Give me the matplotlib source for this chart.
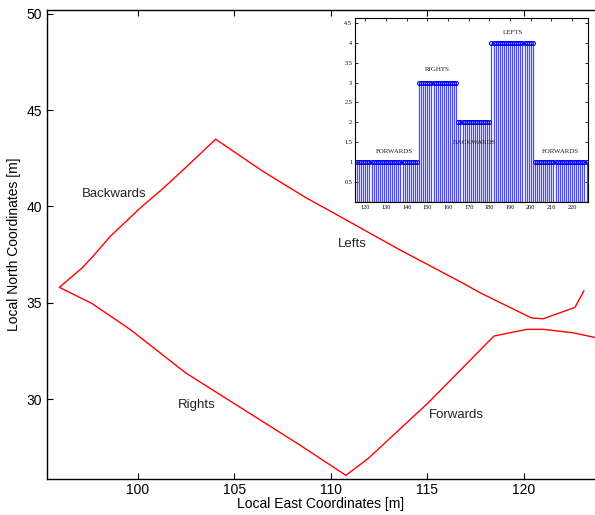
import numpy as np
import matplotlib
matplotlib.use("Agg")
import matplotlib.pyplot as plt

# ---------------- TRAJECTORY (local ENU, metres) ----------------
east = [123.95, 123.69, 122.57, 121.02, 120.16, 118.46, 115.06, 113.07, 111.95,
        110.79, 108.41, 102.50, 99.60, 97.62, 95.94, 97.10, 97.62, 98.56, 100.12,
        101.33, 102.36, 104.04, 106.51, 108.76, 109.96, 113.60, 116.87, 117.74,
        120.41, 121.02, 122.66, 123.12]
north = [33.17, 33.20, 33.44, 33.62, 33.62, 33.27, 29.81, 27.96, 26.92,
         26.04, 27.61, 31.35, 33.62, 34.97, 35.80, 36.79, 37.34, 38.43, 39.91,
         40.95, 41.90, 43.49, 41.81, 40.43, 39.77, 37.74, 36.01, 35.52,
         34.21, 34.17, 34.76, 35.61]

path_labels = ["Backwards", "Lefts", "Rights", "Forwards"]
path_label_x = [97.10, 110.38, 102.09, 115.11]
path_label_y = [40.63, 38.05, 29.69, 29.17]

# ---------------- MANOEUVRE CLASS PER SAMPLE ----------------
seg_names = ["FORWARDS", "RIGHTS", "BACKWARDS", "LEFTS", "FORWARDS"]
seg_first = [116, 146, 165, 181, 202]
seg_last = [145, 164, 180, 201, 227]
seg_class = [1, 3, 2, 4, 1]
seg_text_x = [134.1, 155.0, 173.0, 191.2, 214.5]
seg_text_y = [1.27, 3.33, 1.50, 4.25, 1.27]

samples = np.concatenate([np.arange(a, b + 1) for a, b in zip(seg_first, seg_last)])
classes = np.concatenate([np.full(b - a + 1, c) for a, b, c in zip(seg_first, seg_last, seg_class)])

plt.rcParams['font.family'] = ['Liberation Sans', 'DejaVu Sans']

fig = plt.figure(figsize=(5.95, 5.15), dpi=100)
ax = fig.add_axes([47/595, 1 - 479/515, 1 - 47/595, (479 - 10)/515])

ax.plot(east, north, color='#ff0000', lw=1.0)
for t, x, y in zip(path_labels, path_label_x, path_label_y):
    ax.text(x, y, t, fontsize=9.5, ha='left', va='center', color='#222222')

ax.set_xlim(95.3, 123.7)
ax.set_ylim(25.85, 50.2)
ax.set_xticks([100, 105, 110, 115, 120])
ax.set_yticks([30, 35, 40, 45, 50])
ax.tick_params(direction='in', length=4, width=0.8, labelsize=10, top=True)
ax.tick_params(axis='x', pad=3)
ax.spines['right'].set_visible(False)
for s in ['left', 'bottom', 'top']:
    ax.spines[s].set_linewidth(1.0)
ax.set_xlabel("Local East Coordinates [m]", fontsize=10, labelpad=0)
ax.set_ylabel("Local North Coordinates [m]", fontsize=10, labelpad=4)

# ---------------- INSET: class sequence ----------------
ins = fig.add_axes([355/595, 1 - 202/515, 233/595, 184/515])
ml, sl, bl = ins.stem(samples, classes, basefmt='b-')
plt.setp(sl, color='#4a4aff', linewidth=0.9)
plt.setp(ml, color='#0000ff', marker='o', markersize=2.8, markerfacecolor='none',
         markeredgewidth=0.8)
plt.setp(bl, color='#0000ff', linewidth=0.8)
for t, x, y in zip(seg_names, seg_text_x, seg_text_y):
    ins.text(x, y, t, fontsize=5, ha='center', va='center', color='#222222',
             family=['Liberation Serif', 'DejaVu Serif'], zorder=5)

ins.set_xlim(115, 227.7)
ins.set_ylim(0, 4.62)
ins.set_xticks(np.arange(120, 221, 10))
ins.set_yticks([0.5, 1, 1.5, 2, 2.5, 3, 3.5, 4, 4.5])
ins.set_yticklabels(["0.5", "1", "1.5", "2", "2.5", "3", "3.5", "4", "4.5"])
ins.tick_params(direction='in', length=2, width=0.6, labelsize=4.5, pad=2,
                top=True, right=True)
for lab in ins.get_xticklabels() + ins.get_yticklabels():
    lab.set_family(['Liberation Serif', 'DejaVu Serif'])
for s in ins.spines.values():
    s.set_linewidth(0.8)

plt.savefig("out.png", dpi=100)
